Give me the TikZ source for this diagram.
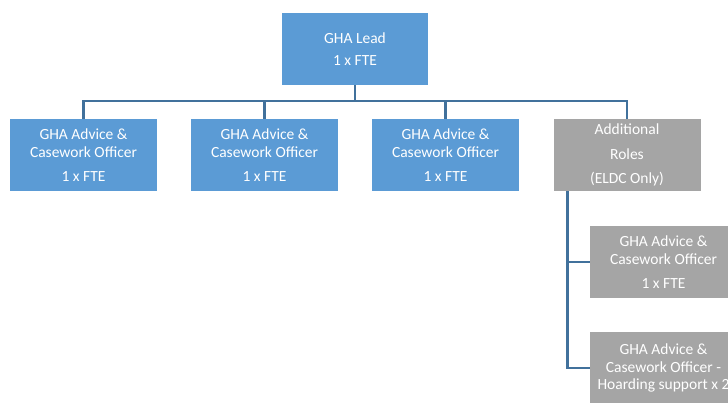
\documentclass[tikz,border=0pt]{standalone}
\usepackage{fontspec}
\setmainfont{Carlito}
\definecolor{roleblue}{RGB}{91,155,213}
\definecolor{rolegrey}{RGB}{165,165,165}
\definecolor{linkblue}{RGB}{65,113,156}
\tikzset{
  role/.style={minimum width=147pt, minimum height=72pt, inner sep=0pt, align=center,
    text=white, font=\fontsize{15.5}{17.7}\selectfont},
  bluerole/.style={role, fill=roleblue},
  greyrole/.style={role, fill=rolegrey},
  link/.style={linkblue, line width=2.5pt}
}
\begin{document}
\begin{tikzpicture}[x=1pt,y=-1pt]
\fill[white] (0,0) rectangle (728,402);
\useasboundingbox (0,0) rectangle (728,402);
\clip (0,0) rectangle (728,402);

% Lead
\node[bluerole, minimum width=146pt] (lead) at (355,49) {GHA Lead\\[5pt]1 x FTE};

% Officers
\node[bluerole] (adv1) at (83.5,155) {GHA Advice \&\\Casework Officer\\[6pt]1 x FTE};
\node[bluerole] (adv2) at (264.5,155) {GHA Advice \&\\Casework Officer\\[6pt]1 x FTE};
\node[bluerole] (adv3) at (445.5,155) {GHA Advice \&\\Casework Officer\\[6pt]1 x FTE};
\node[greyrole] (extra) at (627,155) {Additional\\[6.8pt]Roles\\[6.8pt](ELDC Only)};

% ELDC roles
\node[greyrole] (sub1) at (663.5,262) {GHA Advice \&\\Casework Officer\\[6pt]1 x FTE};
\node[greyrole] (sub2) at (663.5,368) {GHA Advice \&\\Casework Officer -\\Hoarding support x 2};

% Connectors
\foreach \n in {adv1,adv2,adv3,extra}
  \draw[link] (lead.south) -- ++(0,16) -| (\n.north);
\draw[link] ([xshift=14pt]extra.south west) |- (sub1.west);
\draw[link] ([xshift=14pt]extra.south west) |- (sub2.west);
\end{tikzpicture}
\end{document}
